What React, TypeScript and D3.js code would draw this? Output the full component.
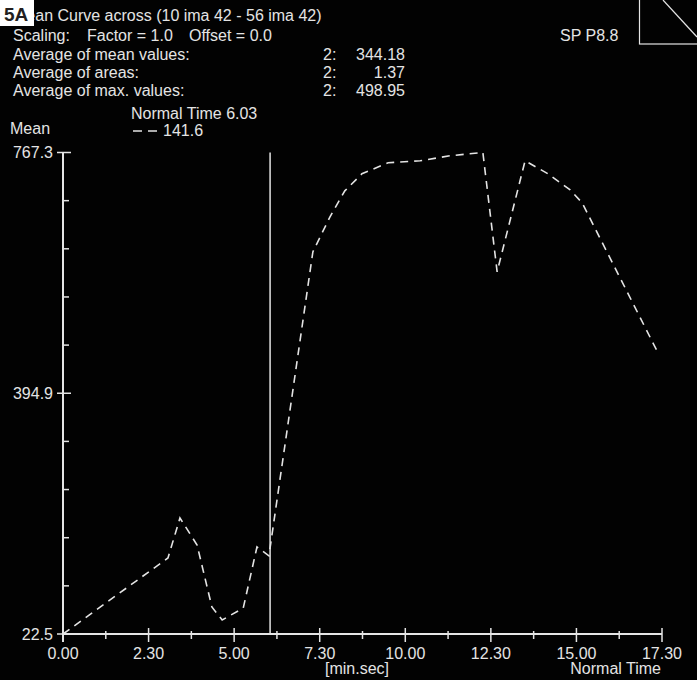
import React from 'react';
import * as d3 from 'd3';

// mean curve, time in seconds (min.sec on the axis)
const timeSec = [0, 184, 205, 235, 261, 279, 316, 340, 361, 438, 468, 494, 524, 570, 626, 678, 736, 761, 810, 850, 889, 910, 1043];
const meanValues = [22.5, 140.1, 202.0, 160.2, 64.3, 44.2, 62.7, 157.1, 143.5, 613.6, 667.8, 708.0, 734.4, 751.4, 754.5, 762.2, 767.3, 582.7, 754.5, 734.4, 709.5, 689.5, 457.3];

const xTickSeconds = [0, 150, 300, 450, 600, 750, 900, 1050];
const xTickLabels = ['0.00', '2.30', '5.00', '7.30', '10.00', '12.30', '15.00', '17.30'];
const yTickValues = [22.5, 394.9, 767.3];
const yTickLabels = ['22.5', '394.9', '767.3'];

const statLabels = ['Average of mean values:', 'Average of areas:', 'Average of max. values:'];
const statIds = ['2:', '2:', '2:'];
const statValues = ['344.18', '1.37', '498.95'];

const normalTime = 363; // 6.03
const normalValue = '141.6';

const W = 697;
const H = 680;
const FG = '#e4e4e4';
const FONT = '"Liberation Sans", Arial, sans-serif';

export default function App() {
  const x = d3.scaleLinear().domain([0, 1050]).range([63, 662]);
  const y = d3.scaleLinear().domain([22.5, 767.3]).range([634, 152.5]);

  const line = d3.line<number>()
    .x((_, i) => x(timeSec[i]))
    .y(d => y(d));

  // minor ticks halfway between labelled ones
  const xMinor = xTickSeconds.slice(1).map((t, i) => (t + xTickSeconds[i]) / 2);
  const yMinor: number[] = [];
  for (let i = 1; i < yTickValues.length; i++) {
    const step = (yTickValues[i] - yTickValues[i - 1]) / 5;
    for (let k = 1; k < 5; k++) yMinor.push(yTickValues[i - 1] + k * step);
  }

  const txt = { fill: FG, fontFamily: FONT, fontSize: 16 } as const;

  return (
    <svg width={W} height={H} style={{ position: 'fixed', left: 0, top: 0, background: '#020202' }}>
      <rect x={0} y={0} width={W} height={H} fill="#020202" />

      {/* header texts */}
      <text x={13} y={21} {...txt}>Mean Curve across (10 ima 42 - 56 ima 42)</text>
      <text x={13} y={41} {...txt}>Scaling:</text>
      <text x={87} y={41} {...txt}>Factor = 1.0</text>
      <text x={189} y={41} {...txt}>Offset = 0.0</text>
      {statLabels.map((s, i) => (
        <g key={s}>
          <text x={13} y={60 + i * 18} {...txt}>{s}</text>
          <text x={323} y={60 + i * 18} {...txt}>{statIds[i]}</text>
          <text x={405} y={60 + i * 18} textAnchor="end" {...txt}>{statValues[i]}</text>
        </g>
      ))}
      <text x={560} y={41} {...txt}>SP P8.8</text>
      <text x={131} y={119} {...txt}>Normal Time 6.03</text>
      <line x1={133} x2={158} y1={131} y2={131} stroke={FG} strokeWidth={1.5} strokeDasharray="9,6" />
      <text x={163} y={136} {...txt}>{normalValue}</text>
      <text x={10} y={134} {...txt}>Mean</text>

      {/* corner box */}
      <rect x={639.5} y={-2} width={60} height={46} fill="none" stroke={FG} strokeWidth={1.2} />
      <line x1={663} y1={0} x2={697} y2={37} stroke={FG} strokeWidth={1.2} />

      {/* y axis */}
      <line x1={x(0)} x2={x(0)} y1={y(767.3)} y2={642} stroke={FG} strokeWidth={2} />
      {yTickValues.map((v, i) => (
        <g key={v}>
          <line x1={x(0) - 6} x2={x(0) + 8} y1={y(v)} y2={y(v)} stroke={FG} strokeWidth={1.5} />
          <text x={53} y={y(v) + 5.5} textAnchor="end" {...txt}>{yTickLabels[i]}</text>
        </g>
      ))}
      {yMinor.map(v => (
        <line key={v} x1={x(0)} x2={x(0) + 6} y1={y(v)} y2={y(v)} stroke={FG} strokeWidth={1.5} />
      ))}

      {/* x axis */}
      <line x1={x(0)} x2={x(1050)} y1={y(22.5)} y2={y(22.5)} stroke={FG} strokeWidth={2} />
      {xTickSeconds.map((t, i) => (
        <g key={t}>
          <line x1={x(t)} x2={x(t)} y1={628} y2={642} stroke={FG} strokeWidth={1.5} />
          <text x={x(t)} y={659} textAnchor="middle" {...txt}>{xTickLabels[i]}</text>
        </g>
      ))}
      {xMinor.map(t => (
        <line key={t} x1={x(t)} x2={x(t)} y1={631} y2={639} stroke={FG} strokeWidth={1.5} />
      ))}
      <text x={357} y={674} textAnchor="middle" {...txt}>[min.sec]</text>
      <text x={661} y={674} textAnchor="end" {...txt}>Normal Time</text>

      {/* normal time marker */}
      <line x1={x(normalTime)} x2={x(normalTime)} y1={y(767.3)} y2={y(22.5)} stroke={FG} strokeWidth={1.5} />

      {/* mean curve */}
      <path d={line(meanValues) || ''} fill="none" stroke={FG} strokeWidth={1.6} strokeDasharray="8,6" />

      {/* panel label */}
      <rect x={0} y={0} width={34} height={26} fill="#ffffff" />
      <text x={4} y={21} fill="#231f20" fontFamily={FONT} fontSize={19} fontWeight={700}>5A</text>
    </svg>
  );
}
